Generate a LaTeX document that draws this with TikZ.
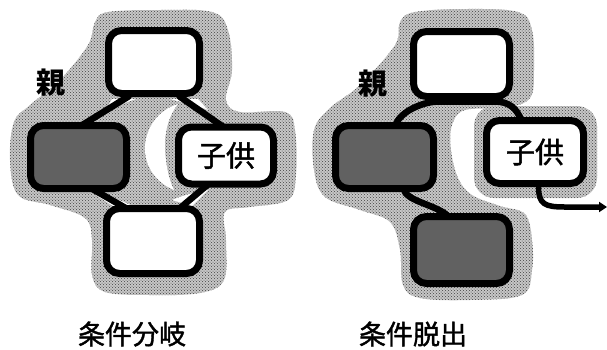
\documentclass[tikz,border=0pt]{standalone}
\usepackage{fontspec}
\setmainfont{Noto Sans CJK JP}
\newfontfamily\capfont{Noto Sans CJK JP}[FakeBold=1.5]
\usetikzlibrary{patterns,arrows.meta}
\pgfdeclarelayer{back}
\pgfsetlayers{back,main}
\begin{document}
\begin{tikzpicture}[x=1pt,y=-1pt,
  halo/.style={fill=black!22, postaction={pattern=crosshatch dots, pattern color=black!75}},
  box/.style={draw=black, line width=7pt, rounded corners=13pt, fill=white, inner sep=0pt, outer sep=0pt},
  hatchbox/.style={box, fill=black!62},
  conn/.style={line width=6.5pt, line cap=round},
  lbl/.style={font=\fontsize{29}{29}\selectfont\capfont, inner sep=0pt},
  capt/.style={font=\fontsize{27}{27}\selectfont\capfont, inner sep=0pt}]
\useasboundingbox (0,0) rectangle (607,349);

% ================= left diagram =================
\begin{pgfonlayer}{back}
\path[halo] plot[smooth cycle, tension=0.6] coordinates {
 (108,12) (160,10) (212,12) (228,30) (232,70) (226,100) (240,112) (285,112)
 (295,130) (296,175) (288,200) (250,207) (225,212) (226,240) (224,280) (200,293)
 (150,295) (105,292) (92,275) (92,240) (85,218) (50,205) (18,195) (10,160)
 (14,122) (30,105) (60,80) (88,45) (95,22)};
% white crescent and white strips
\fill[white] (178,104) .. controls (158,110) and (146,128) .. (145,146)
  .. controls (144,165) and (155,182) .. (174,190)
  .. controls (168,178) and (165,160) .. (165,145)
  .. controls (165,128) and (170,114) .. (178,104) -- cycle;
\fill[white] (112,99) -- (136,99) .. controls (124,103) and (114,107) .. (104,113) -- cycle;
\fill[white] (170,99) -- (198,99) -- (208,110) .. controls (196,105) and (184,103) .. (170,99) -- cycle;
\fill[white] (96,195) .. controls (110,197) and (122,200) .. (134,207) -- (116,208) -- cycle;
\fill[white] (172,200) .. controls (184,195) and (196,192) .. (208,190) -- (192,206) -- cycle;
\end{pgfonlayer}

\node[box] (T1) at (154,62) [minimum width=91pt, minimum height=63pt] {};
\node[hatchbox] (L1) at (78.5,157) [minimum width=96pt, minimum height=63pt] {};
\node[box,lbl] (R1) at (226,155.5) [minimum width=95pt, minimum height=57pt] {子供};
\node[box] (B1) at (153,241) [minimum width=93pt, minimum height=65pt] {};

\begin{pgfonlayer}{back}
\draw[conn] ([xshift=20pt,yshift=-3pt]T1.south west) -- ([xshift=-45pt]L1.north east);
\draw[conn] ([xshift=-20pt,yshift=-3pt]T1.south east) -- ([xshift=45pt]R1.north west);
\draw[conn] ([xshift=-35pt]L1.south east) -- ([xshift=20pt]B1.north west);
\draw[conn] ([xshift=30pt]R1.south west) -- ([xshift=-20pt]B1.north east);
\end{pgfonlayer}

\node[lbl,font=\fontsize{29}{29}\selectfont\bfseries] (P1) at (51,83) {親};
\node[capt] (C1) at (132,334) {条件分岐};

% ================= right diagram =================
\begin{pgfonlayer}{back}
\path[halo] plot[smooth cycle, tension=0.6] coordinates {
 (415,12) (465,9) (518,12) (532,30) (534,70) (530,98) (505,108) (465,110)
 (452,125) (451,150) (458,178) (472,195) (500,206) (525,214) (532,240) (532,270) (522,295)
 (470,300) (420,298) (403,285) (400,250) (390,222) (360,210) (325,197) (314,170)
 (314,130) (330,108) (360,85) (395,45) (400,22)};
\path[halo, rounded corners=20pt] (474,106) rectangle (597,198);
\end{pgfonlayer}

\node[box] (T2) at (461.5,64) [minimum width=96pt, minimum height=65pt] {};
\node[hatchbox] (L2) at (384.5,157) [minimum width=98pt, minimum height=63pt] {};
\node[box,lbl] (R2) at (535,152) [minimum width=97pt, minimum height=63pt] {子供};
\node[hatchbox] (B2) at (461.5,250) [minimum width=96pt, minimum height=67pt] {};
\coordinate (bend) at (565,207);
\coordinate (exit) at (607,207);

\begin{pgfonlayer}{back}
\draw[conn] ([xshift=60pt]L2.north west) .. controls +(4,-14) and +(-15,0) ..
  ([xshift=25pt,yshift=-5pt]T2.south west) -- ([xshift=-15pt,yshift=-5pt]T2.south east)
  .. controls +(15,0) and +(-5,-12) .. ([xshift=35pt]R2.north west);
\draw[conn] ([xshift=68pt]L2.south west) .. controls +(2,13) and +(-12,-12) .. ([xshift=35pt]B2.north west);
\end{pgfonlayer}
\draw[conn, line width=5.5pt, line cap=butt, -{Triangle[length=8pt,width=10pt]}] ([xshift=52pt,yshift=-3pt]R2.south west)
  .. controls +(0,18) and +(-20,0) .. (bend) -- (exit);

\node[lbl,font=\fontsize{29}{29}\selectfont\bfseries] (P2) at (373,84) {親};
\node[capt] (C2) at (413,334) {条件脱出};
\end{tikzpicture}
\end{document}
